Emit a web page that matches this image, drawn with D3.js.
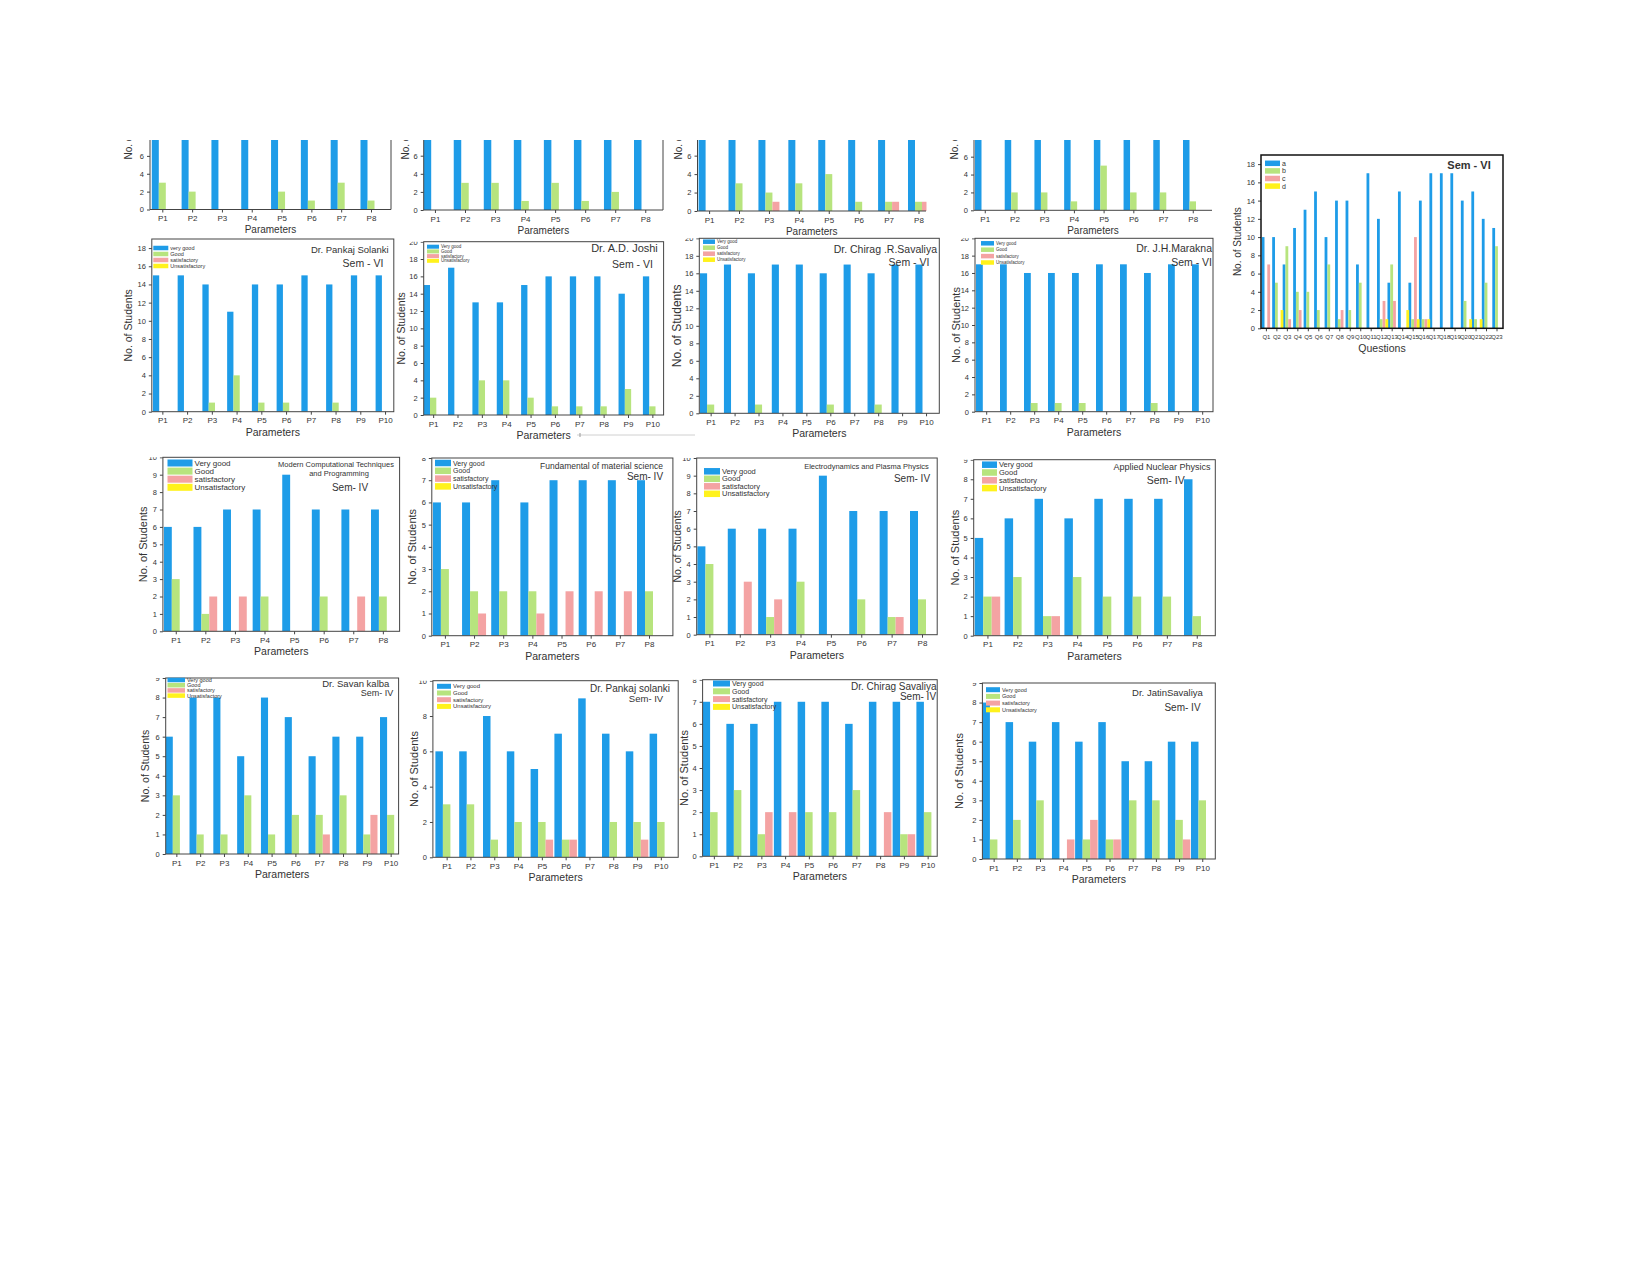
<!DOCTYPE html>
<html><head><meta charset="utf-8">
<script src="https://cdn.jsdelivr.net/npm/d3@7"></script>
<style>
body{margin:0;background:#fff}
svg{display:block}
text{font-family:"Liberation Sans",Arial,sans-serif;fill:#333}
</style>
</head><body>
<svg id="c" width="1650" height="1275"></svg>
<script>
// ---------------- DATA ----------------
const params8 = ["P1","P2","P3","P4","P5","P6","P7","P8"];
const params10 = ["P1","P2","P3","P4","P5","P6","P7","P8","P9","P10"];
const questions = ["Q1","Q2","Q3","Q4","Q5","Q6","Q7","Q8","Q9","Q10","Q11","Q12","Q13","Q14","Q15","Q16","Q17","Q18","Q19","Q20","Q21","Q22","Q23"];

const legendUpper = ["Very good","Good","satisfactory","Unsatisfactory"];
const legendLower = ["very good","Good","satisfactory","Unsatisfactory"];
const legendQ = ["a","b","c","d"];

// Row 1 (top, cropped panels; "very good" bars are cut off above ~8)
const r1p1VeryGood = [15,15,15,15,15,15,15,15];
const r1p1Good     = [3,2,0,0,2,1,3,1];
const r1p1Satisf   = [0,0,0,0,0,0,0,0];
const r1p1Unsat    = [0,0,0,0,0,0,0,0];

const r1p2VeryGood = [15,15,15,15,15,15,15,15];
const r1p2Good     = [0,3,3,1,3,1,2,0];
const r1p2Satisf   = [0,0,0,0,0,0,0,0];
const r1p2Unsat    = [0,0,0,0,0,0,0,0];

const r1p3VeryGood = [15,15,15,15,15,15,15,15];
const r1p3Good     = [0,3,2,3,4,1,1,1];
const r1p3Satisf   = [0,0,1,0,0,0,1,1];
const r1p3Unsat    = [0,0,0,0,0,0,0,0];

const r1p4VeryGood = [15,15,15,15,15,15,15,15];
const r1p4Good     = [0,2,2,1,5,2,2,1];
const r1p4Satisf   = [0,0,0,0,0,0,0,0];
const r1p4Unsat    = [0,0,0,0,0,0,0,0];

// Row 2 (Sem - VI)
const solankiVIVeryGood = [15,15,14,11,14,14,15,14,15,15];
const solankiVIGood     = [0,0,1,4,1,1,0,1,0,0];
const solankiVISatisf   = [0,0,0,0,0,0,0,0,0,0];
const solankiVIUnsat    = [0,0,0,0,0,0,0,0,0,0];

const joshiVeryGood = [15,17,13,13,15,16,16,16,14,16];
const joshiGood     = [2,0,4,4,2,1,1,1,3,1];
const joshiSatisf   = [0,0,0,0,0,0,0,0,0,0];
const joshiUnsat    = [0,0,0,0,0,0,0,0,0,0];

const chiragVIVeryGood = [16,17,16,17,17,16,17,16,17,17];
const chiragVIGood     = [1,0,1,0,0,1,0,1,0,0];
const chiragVISatisf   = [0,0,0,0,0,0,0,0,0,0];
const chiragVIUnsat    = [0,0,0,0,0,0,0,0,0,0];

const maraknaVeryGood = [17,17,16,16,16,17,17,16,17,17];
const maraknaGood     = [0,0,1,1,1,0,0,1,0,0];
const maraknaSatisf   = [0,0,0,0,0,0,0,0,0,0];
const maraknaUnsat    = [0,0,0,0,0,0,0,0,0,0];

// Right panel (Sem - VI, questions)
const qA = [10,10,7,11,13,15,10,14,14,7,17,12,5,15,5,14,17,17,17,14,15,12,11];
const qB = [0,5,9,4,4,2,7,1,2,5,0,1,7,0,1,1,0,0,0,3,1,5,9];
const qC = [7,0,1,2,0,0,0,2,0,0,0,3,3,0,10,1,0,0,0,0,0,0,0];
const qD = [0,2,0,0,0,0,0,0,0,0,0,1,0,2,1,1,0,0,0,1,1,0,0];

// Row 3 (Sem- IV, subjects)
const mctpVeryGood = [6,6,7,7,9,7,7,7];
const mctpGood     = [3,1,0,2,0,2,0,2];
const mctpSatisf   = [0,2,2,0,0,0,2,0];
const mctpUnsat    = [0,0,0,0,0,0,0,0];

const fmsVeryGood = [6,6,7,6,7,7,7,7];
const fmsGood     = [3,2,2,2,0,0,0,2];
const fmsSatisf   = [0,1,0,1,2,2,2,0];
const fmsUnsat    = [0,0,0,0,0,0,0,0];

const eppVeryGood = [5,6,6,6,9,7,7,7];
const eppGood     = [4,0,1,3,0,2,1,2];
const eppSatisf   = [0,3,2,0,0,0,1,0];
const eppUnsat    = [0,0,0,0,0,0,0,0];

const anpVeryGood = [5,6,7,6,7,7,7,8];
const anpGood     = [2,3,1,3,2,2,2,1];
const anpSatisf   = [2,0,1,0,0,0,0,0];
const anpUnsat    = [0,0,0,0,0,0,0,0];

// Row 4 (Sem- IV, teachers)
const kalbaVeryGood = [6,8,8,5,8,7,5,6,6,7];
const kalbaGood     = [3,1,1,3,1,2,2,3,1,2];
const kalbaSatisf   = [0,0,0,0,0,0,1,0,2,0];
const kalbaUnsat    = [0,0,0,0,0,0,0,0,0,0];

const solankiIVVeryGood = [6,6,8,6,5,7,9,7,6,7];
const solankiIVGood     = [3,3,1,2,2,1,0,2,2,2];
const solankiIVSatisf   = [0,0,0,0,1,1,0,0,1,0];
const solankiIVUnsat    = [0,0,0,0,0,0,0,0,0,0];

const chiragIVVeryGood = [7,6,6,7,7,7,6,7,7,7];
const chiragIVGood     = [2,3,1,0,2,2,3,0,1,2];
const chiragIVSatisf   = [0,0,2,2,0,0,0,2,1,0];
const chiragIVUnsat    = [0,0,0,0,0,0,0,0,0,0];

const jatinVeryGood = [8,7,6,7,6,7,5,5,6,6];
const jatinGood     = [1,2,3,0,1,1,3,3,2,3];
const jatinSatisf   = [0,0,0,1,2,1,0,0,1,0];
const jatinUnsat    = [0,0,0,0,0,0,0,0,0,0];

// ---------------- STYLE / LAYOUT ----------------
const colors = ["#1E9CE8","#B7E47E","#F4A3A3","#FFF21C"];

const layout = [
  // row 1 (cropped at top)
  {cats:params8, series:[r1p1VeryGood,r1p1Good,r1p1Satisf,r1p1Unsat], L:150,R:391,T:138,B:209.5,ymax:8,step:2,clipTop:140,
   bx0:151.8,bx1:360.5,w:7, ylabX:128, ylabY:125, ylabFs:10, rightLine:true, noTop:true, xlabFs:10},
  {cats:params8, series:[r1p2VeryGood,r1p2Good,r1p2Satisf,r1p2Unsat], L:423.7,R:663,T:137.6,B:210,ymax:8,step:2,clipTop:140,
   bx0:423.7,bx1:634,w:7.5, ylabX:405, ylabY:125, ylabFs:10, rightLine:true, noTop:true, xlabFs:10},
  {cats:params8, series:[r1p3VeryGood,r1p3Good,r1p3Satisf,r1p3Unsat], L:697.5,R:926,T:137.2,B:211,ymax:8,step:2,clipTop:140,
   bx0:698.6,bx1:908,w:7, ylabX:678, ylabY:125, ylabFs:10, rightLine:false, noTop:true, xlabFs:10},
  {cats:params8, series:[r1p4VeryGood,r1p4Good,r1p4Satisf,r1p4Unsat], L:974,R:1212,T:138.8,B:210.3,ymax:8,step:2,clipTop:140,
   bx0:975,bx1:1183,w:6.5, ylabX:954, ylabY:125, ylabFs:10, rightLine:false, noTop:true, xlabFs:10},

  // row 2
  {cats:params10, series:[solankiVIVeryGood,solankiVIGood,solankiVISatisf,solankiVIUnsat], L:151.8,R:393.8,T:239,B:411.7,ymax:19,step:2,
   bx0:152.9,bx1:375.6,w:6.3, ylabX:128, ylabFs:10.5,
   legend:{labels:legendLower,x:153.3,y:248,dy:6,bw:15,bh:4.5,fs:5.5},
   titles:[{t:"Dr. Pankaj Solanki",x:388.6,y:249,fs:9.5,a:"end"},{t:"Sem - VI",x:363,y:263.3,fs:10.5,a:"middle"}]},
  {cats:params10, series:[joshiVeryGood,joshiGood,joshiSatisf,joshiUnsat], L:423.7,R:663.6,T:241.7,B:415,ymax:20,step:2,
   bx0:423.7,bx1:642.9,w:6.3, ylabX:401, ylabFs:10.5,
   legend:{labels:legendUpper,x:427,y:246.7,dy:4.7,bw:12,bh:4,fs:4.5},
   titles:[{t:"Dr. A.D. Joshi",x:624.5,y:248.3,fs:11,a:"middle"},{t:"Sem - VI",x:632.5,y:264,fs:10.5,a:"middle"}]},
  {cats:params10, series:[chiragVIVeryGood,chiragVIGood,chiragVISatisf,chiragVIUnsat], L:699.3,R:939.3,T:238.3,B:413.3,ymax:20,step:2,
   bx0:700,bx1:915.4,w:7.1, ylabX:677, ylabFs:12,
   legend:{labels:legendUpper,x:703,y:241.7,dy:6,bw:12,bh:4.5,fs:4.5},
   titles:[{t:"Dr. Chirag .R.Savaliya",x:937,y:249,fs:10.5,a:"end"},{t:"Sem - VI",x:909,y:261.7,fs:10.5,a:"middle"}]},
  {cats:params10, series:[maraknaVeryGood,maraknaGood,maraknaSatisf,maraknaUnsat], L:975,R:1213,T:238.3,B:411.7,ymax:20,step:2,
   bx0:976,bx1:1192,w:6.8, ylabX:956, ylabFs:11,
   legend:{labels:legendUpper,x:981,y:243.3,dy:6.4,bw:13,bh:4.5,fs:4.5},
   titles:[{t:"Dr. J.H.Marakna",x:1212,y:248.3,fs:10.5,a:"end"},{t:"Sem - VI",x:1212,y:261.7,fs:10.5,a:"end"}]},

  // right panel
  {cats:questions, series:[qA,qB,qC,qD], L:1261,R:1503,T:155,B:328.3,ymax:19,step:2,
   bx0:1261.7,bx1:1492.3,w:2.8, ylabX:1237, ylabFs:10, xlab:"Questions", tickFs:6, labelOffset:1.5, heavy:true,
   legend:{labels:legendQ,x:1265,y:163.3,dy:7.6,bw:15,bh:5.5,fs:7},
   titles:[{t:"Sem - VI",x:1469,y:165,fs:11,a:"middle",bold:true}]},

  // row 3
  {cats:params8, series:[mctpVeryGood,mctpGood,mctpSatisf,mctpUnsat], L:162.9,R:399.6,T:457.3,B:631.3,ymax:10,step:1,
   bx0:163.9,bx1:371,w:7.9, ylabX:143, ylabFs:11,
   legend:{labels:legendUpper,x:167.5,y:463,dy:8.1,bw:25,bh:7,fs:8},
   titles:[{t:"Modern Computational Techniques",x:336,y:464.7,fs:7.5,a:"middle"},{t:"and Programming",x:339,y:473,fs:7.5,a:"middle"},{t:"Sem- IV",x:350,y:487.3,fs:10,a:"middle"}]},
  {cats:params8, series:[fmsVeryGood,fmsGood,fmsSatisf,fmsUnsat], L:431.8,R:672.9,T:458,B:635.7,ymax:8,step:1,
   bx0:432.9,bx1:637,w:8, ylabX:412, ylabFs:11,
   legend:{labels:legendUpper,x:435,y:463,dy:7.8,bw:16,bh:6.5,fs:7},
   titles:[{t:"Fundamental of material science",x:601.5,y:466.3,fs:8.5,a:"middle"},{t:"Sem- IV",x:645,y:476.3,fs:10,a:"middle"}]},
  {cats:params8, series:[eppVeryGood,eppGood,eppSatisf,eppUnsat], L:696.7,R:937.2,T:458,B:634.7,ymax:10,step:1,
   bx0:697.4,bx1:910,w:8, ylabX:677, ylabFs:10.5,
   legend:{labels:legendUpper,x:704,y:471.3,dy:7.5,bw:16,bh:6.5,fs:7.5},
   titles:[{t:"Electrodynamics and Plasma Physics",x:866.5,y:466.3,fs:7.5,a:"middle"},{t:"Sem- IV",x:912,y:478.7,fs:10,a:"middle"}]},
  {cats:params8, series:[anpVeryGood,anpGood,anpSatisf,anpUnsat], L:973.7,R:1215.3,T:459.7,B:635.7,ymax:9,step:1,
   bx0:974.7,bx1:1184,w:8.5, ylabX:955, ylabFs:11,
   legend:{labels:legendUpper,x:982,y:464.7,dy:7.8,bw:15,bh:6.5,fs:7.5},
   titles:[{t:"Applied Nuclear Physics",x:1162,y:467.3,fs:9,a:"middle"},{t:"Sem- IV",x:1165.7,y:479.7,fs:10.5,a:"middle"}]},

  // row 4
  {cats:params10, series:[kalbaVeryGood,kalbaGood,kalbaSatisf,kalbaUnsat], L:165.7,R:398.6,T:678,B:854,ymax:9,step:1,
   bx0:165.7,bx1:380,w:7.1, ylabX:145, ylabFs:10.5,
   legend:{labels:legendUpper,x:167.5,y:680,dy:5.2,bw:17.5,bh:4.5,fs:5.5},
   titles:[{t:"Dr. Savan kalba",x:355.8,y:683,fs:9.5,a:"middle"},{t:"Sem- IV",x:377,y:693,fs:9,a:"middle"}]},
  {cats:params10, series:[solankiIVVeryGood,solankiIVGood,solankiIVSatisf,solankiIVUnsat], L:432.9,R:678.2,T:680.7,B:857.3,ymax:10,step:2,
   bx0:435.4,bx1:649.6,w:7.5, ylabX:414, ylabFs:11,
   legend:{labels:legendUpper,x:437,y:686.3,dy:6.7,bw:14,bh:5,fs:6},
   titles:[{t:"Dr. Pankaj solanki",x:630,y:688,fs:10,a:"middle"},{t:"Sem- IV",x:646,y:698,fs:9.5,a:"middle"}]},
  {cats:params10, series:[chiragIVVeryGood,chiragIVGood,chiragIVSatisf,chiragIVUnsat], L:702.6,R:937.2,T:679.7,B:856.3,ymax:8,step:1,
   bx0:702.6,bx1:916.4,w:7.5, ylabX:684, ylabFs:11,
   legend:{labels:legendUpper,x:713,y:683.5,dy:7.8,bw:17,bh:6,fs:7},
   titles:[{t:"Dr. Chirag Savaliya",x:893.8,y:686.3,fs:10,a:"middle"},{t:"Sem- IV",x:918,y:696.3,fs:10,a:"middle"}]},
  {cats:params10, series:[jatinVeryGood,jatinGood,jatinSatisf,jatinUnsat], L:982.4,R:1215.3,T:683,B:859,ymax:9,step:1,
   bx0:982.4,bx1:1191,w:7.5, ylabX:959, ylabFs:11,
   legend:{labels:legendUpper,x:986,y:689.7,dy:6.7,bw:14,bh:5,fs:5.5},
   titles:[{t:"Dr. JatinSavaliya",x:1167.5,y:692,fs:9.5,a:"middle"},{t:"Sem- IV",x:1182.5,y:707.3,fs:10,a:"middle"}]}
];

// ---------------- DRAW ----------------
const svg = d3.select("#c");
const defs = svg.append("defs");
const frameColor = "#444";

layout.forEach((p, i) => {
  const g = svg.append("g");
  const clipTop = p.clipTop != null ? p.clipTop : p.T;
  const clipId = "clip" + i;
  defs.append("clipPath").attr("id", clipId).append("rect")
    .attr("x", p.L).attr("y", clipTop).attr("width", p.R - p.L + 0.5).attr("height", p.B - clipTop);
  const outerClip = "oclip" + i;
  defs.append("clipPath").attr("id", outerClip).append("rect")
    .attr("x", p.L - 60).attr("y", clipTop).attr("width", p.R - p.L + 120).attr("height", 400);

  const y = d3.scaleLinear().domain([0, p.ymax]).range([p.B, p.T]);
  const x = d3.scalePoint().domain(p.cats).range([p.bx0, p.bx1]);
  const lo = p.labelOffset != null ? p.labelOffset : 1.5;
  const xl = d3.scalePoint().domain(p.cats).range([p.bx0 + lo * p.w, p.bx1 + lo * p.w]);

  // bars
  const barG = g.append("g").attr("clip-path", `url(#${clipId})`);
  p.series.forEach((vals, j) => {
    barG.append("g").selectAll("rect")
      .data(vals.map((v, k) => ({c: p.cats[k], v})))
      .join("rect")
      .attr("x", d => x(d.c) + j * p.w)
      .attr("width", p.w)
      .attr("y", d => y(d.v))
      .attr("height", d => p.B - y(d.v))
      .attr("fill", colors[j]);
  });

  const axG = g.append("g").attr("clip-path", `url(#${outerClip})`);

  // y axis
  const yTicks = d3.range(0, p.ymax + 1e-9, p.step).filter(v => y(v) >= clipTop - 0.5);
  const yAxis = axG.append("g").attr("transform", `translate(${p.L},0)`)
    .call(d3.axisLeft(y).tickValues(yTicks).tickSize(3).tickPadding(3).tickFormat(d3.format("d")));
  yAxis.select(".domain").remove();
  yAxis.selectAll(".tick line").attr("stroke", frameColor);
  yAxis.selectAll(".tick text").attr("font-size", 7.5).attr("fill", "#333").attr("font-family", null);

  // x axis
  const xAxis = axG.append("g").attr("transform", `translate(0,${p.B})`)
    .call(d3.axisBottom(xl).tickSize(3).tickPadding(3));
  xAxis.select(".domain").remove();
  xAxis.selectAll(".tick line").attr("stroke", frameColor);
  xAxis.selectAll(".tick text").attr("font-size", p.tickFs || 8).attr("fill", "#333").attr("font-family", null);

  // frame
  if (p.noTop) {
    axG.append("line").attr("x1", p.L).attr("x2", p.L).attr("y1", clipTop).attr("y2", p.B).attr("stroke", frameColor);
    axG.append("line").attr("x1", p.L).attr("x2", p.R).attr("y1", p.B).attr("y2", p.B).attr("stroke", frameColor);
    if (p.rightLine) axG.append("line").attr("x1", p.R).attr("x2", p.R).attr("y1", clipTop).attr("y2", p.B).attr("stroke", frameColor);
  } else {
    g.append("rect").attr("x", p.L).attr("y", p.T).attr("width", p.R - p.L).attr("height", p.B - p.T)
      .attr("fill", "none").attr("stroke", p.heavy ? "#111" : frameColor).attr("stroke-width", p.heavy ? 1.5 : 1);
  }

  // axis titles
  axG.append("text")
    .attr("transform", `translate(${p.ylabX},${p.ylabY != null ? p.ylabY : (p.T + p.B) / 2}) rotate(-90)`)
    .attr("text-anchor", "middle").attr("dominant-baseline", "central")
    .attr("font-size", p.ylabFs).text("No. of Students");
  axG.append("text")
    .attr("x", (p.L + p.R) / 2).attr("y", p.B + 20)
    .attr("text-anchor", "middle").attr("dominant-baseline", "central")
    .attr("font-size", p.xlabFs || 10.5).text(p.xlab || "Parameters");

  // legend
  if (p.legend) {
    const lg = g.append("g");
    p.legend.labels.forEach((lab, j) => {
      const cy = p.legend.y + j * p.legend.dy;
      lg.append("rect").attr("x", p.legend.x).attr("y", cy - p.legend.bh / 2)
        .attr("width", p.legend.bw).attr("height", p.legend.bh).attr("fill", colors[j]);
      lg.append("text").attr("x", p.legend.x + p.legend.bw + 2).attr("y", cy)
        .attr("dominant-baseline", "central").attr("font-size", p.legend.fs).text(lab);
    });
  }

  // titles
  (p.titles || []).forEach(t => {
    g.append("text").attr("x", t.x).attr("y", t.y)
      .attr("text-anchor", t.a).attr("dominant-baseline", "central")
      .attr("font-size", t.fs).attr("font-weight", t.bold ? "bold" : null)
      .attr("fill", "#222").text(t.t);
  });
});

// faint separator line under the second row
svg.append("line").attr("x1", 577).attr("x2", 695).attr("y1", 435).attr("y2", 435)
  .attr("stroke", "#d0d0d0").attr("stroke-width", 1);
svg.append("line").attr("x1", 580).attr("x2", 580).attr("y1", 433).attr("y2", 437)
  .attr("stroke", "#999").attr("stroke-width", 1);
</script>
</body></html>
